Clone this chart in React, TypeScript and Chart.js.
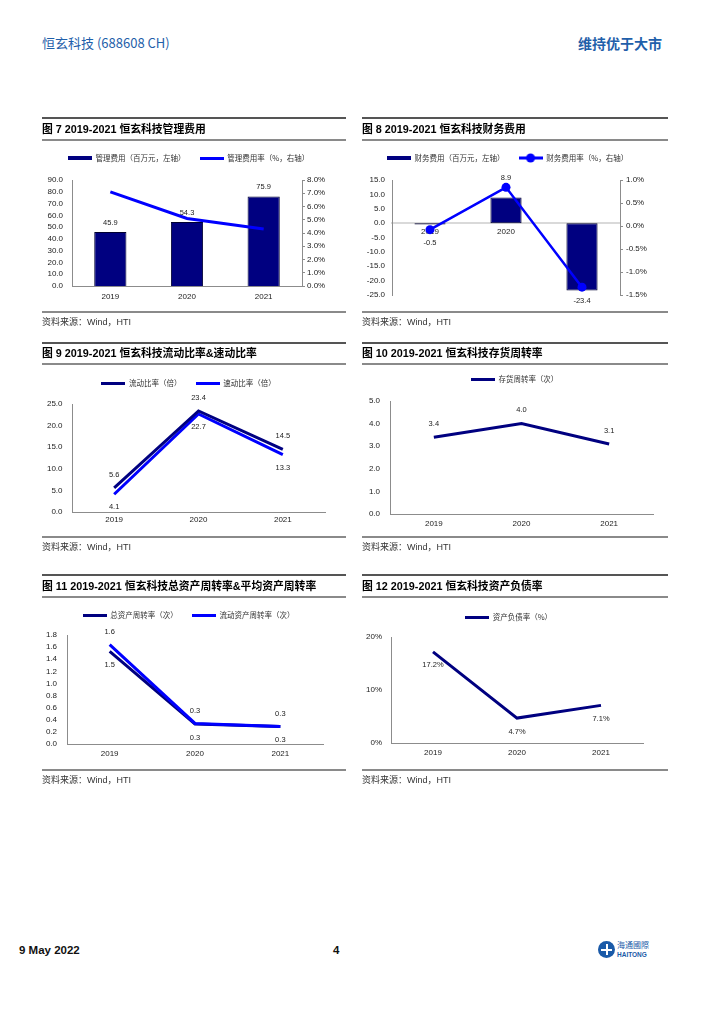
import React, { useEffect, useRef } from "react";
import { Chart, registerables } from "chart.js";

Chart.register(...registerables);

// ---------------- data ----------------
const YEARS = ["2019", "2020", "2021"];
// Fig 7
const ADMIN_EXP = [45.9, 54.3, 75.9];
const ADMIN_RATE = [7.1, 5.1, 4.3];
// Fig 8
const FIN_EXP = [-0.5, 8.9, -23.4];
const FIN_RATE = [-0.08, 0.84, -1.33];
// Fig 9
const CURRENT_RATIO = [5.6, 23.4, 14.5];
const QUICK_RATIO = [4.1, 22.7, 13.3];
// Fig 10
const INV_TURNOVER = [3.4, 4.0, 3.1];
// Fig 11
const TOTAL_ASSET_TURNOVER = [1.53, 0.33, 0.29];
const CURRENT_ASSET_TURNOVER = [1.64, 0.34, 0.29];
// Fig 12
const DEBT_RATIO = [17.2, 4.7, 7.1];

const TITLES = [
  "图 7 2019-2021 恒玄科技管理费用",
  "图 8 2019-2021 恒玄科技财务费用",
  "图 9 2019-2021 恒玄科技流动比率&速动比率",
  "图 10 2019-2021 恒玄科技存货周转率",
  "图 11 2019-2021 恒玄科技总资产周转率&平均资产周转率",
  "图 12 2019-2021 恒玄科技资产负债率",
];
const LEG7 = ["管理费用（百万元，左轴）", "管理费用率（%，右轴）"];
const LEG8 = ["财务费用（百万元，左轴）", "财务费用率（%，右轴）"];
const LEG9 = ["流动比率（倍）", "速动比率（倍）"];
const LEG10 = ["存货周转率（次）"];
const LEG11 = ["总资产周转率（次）", "流动资产周转率（次）"];
const LEG12 = ["资产负债率（%）"];
const SOURCE = "资料来源：Wind，HTI";

// ---------------- style ----------------
const NAVY = "#000080";
const BLUE = "#0000ff";
const AXIS = "#8c8c8c";
const TXT = "#222222";
const LATIN = '"Liberation Sans", Arial, "Noto Sans CJK SC", sans-serif';
const CJK = '"Noto Sans CJK SC", "Liberation Sans", sans-serif';
const HEAD_BLUE = "#1f5faa";

Chart.defaults.font.family = LATIN;
Chart.defaults.color = TXT;

const LEG_PAD = 14;
const LEG_FS = 7.5;
const X_H = 20;

type Spec = {
  left: number; top: number; width: number; height: number;
  legendY: number; legendCX: number;
  area: [number, number, number, number];
  right?: boolean; dynX?: boolean;
};

function computeLayout(s: Spec) {
  const W = s.width, H = s.height;
  const aL = s.area[0] - s.left, aT = s.area[1] - s.top, aR = s.area[2] - s.left, aB = s.area[3] - s.top;
  const cx = s.legendCX - s.left;
  const padL = 0;
  const padR = s.right ? 0 : W - aR;
  const yW = aL;
  const rW = s.right ? W - aR : 0;
  const legendDX = cx - (padL + W - padR) / 2;
  const padT = s.legendY - s.top - LEG_PAD - LEG_FS / 2;
  const legendH = aT - padT;
  const padB = s.dynX ? H - aB : H - aB - X_H;
  return { padL, padR, padT, padB, yW, rW, legendH, legendDX };
}

function marker(kind: "bar" | "line" | "dot", color: string) {
  const c = document.createElement("canvas");
  c.width = 24;
  c.height = kind === "dot" ? 10 : kind === "bar" ? 4 : 3;
  const g = c.getContext("2d")!;
  g.fillStyle = color;
  if (kind === "bar") g.fillRect(0, 0, 24, 4);
  else if (kind === "line") g.fillRect(0, 0, 24, 3);
  else {
    g.fillRect(0, 3.5, 24, 3);
    g.beginPath();
    g.arc(12, 5, 4.5, 0, Math.PI * 2);
    g.fill();
  }
  return c;
}

const valueLabelPlugin = {
  id: "valueLabels",
  afterDatasetsDraw(chart: any) {
    const ctx = chart.ctx;
    chart.data.datasets.forEach((ds: any, i: number) => {
      const cfg = ds.valueLabels;
      if (!cfg) return;
      const meta = chart.getDatasetMeta(i);
      meta.data.forEach((el: any, j: number) => {
        const v = ds.data[j] as number;
        const dy = Array.isArray(cfg.dy) ? cfg.dy[j] : cfg.dy;
        ctx.save();
        ctx.font = `7.5px ${LATIN}`;
        ctx.fillStyle = TXT;
        ctx.textAlign = "center";
        ctx.textBaseline = "middle";
        ctx.fillText(cfg.fmt(v), el.x, el.y + dy);
        ctx.restore();
      });
    });
  },
};

function legendPlacePlugin(h: number, dx: number) {
  return {
    id: "legendPlace",
    beforeInit(chart: any) {
      const legend = chart.legend;
      if (!legend) return;
      const orig = legend.fit;
      legend.fit = function () {
        orig.call(this);
        this.height = h;
      };
    },
    afterLayout(chart: any) {
      const legend = chart.legend;
      if (!legend) return;
      legend.left += dx;
      legend.right += dx;
    },
  };
}

function xScale(pad: number, dyn?: boolean) {
  return {
    type: "category",
    offset: true,
    position: dyn ? { y: 0 } : "bottom",
    z: dyn ? 1 : 0,
    grid: { display: false, drawTicks: false, offset: true },
    border: { display: true, color: dyn ? "#d9d9d9" : AXIS, width: dyn ? 2 : 1 },
    ticks: { padding: pad, font: { size: 8 }, color: TXT, maxRotation: 0, autoSkip: false },
    afterFit: (sc: any) => {
      if (!dyn) sc.height = X_H;
    },
  };
}

function yScale(o: {
  pos: "left" | "right"; min: number; max: number; step: number;
  fmt: (v: number) => string; pad: number; width: number; ticks?: boolean;
}) {
  return {
    type: "linear",
    position: o.pos,
    min: o.min,
    max: o.max,
    grid: { display: !!o.ticks, drawOnChartArea: false, drawTicks: !!o.ticks, tickLength: 3, color: AXIS },
    border: { display: true, color: AXIS, width: 1 },
    ticks: {
      stepSize: o.step,
      autoSkip: false,
      padding: o.pad,
      font: { size: 8 },
      color: TXT,
      callback: (v: any) => o.fmt(Number(v)),
    },
    afterFit: (sc: any) => {
      sc.width = o.width;
    },
  };
}

const f1 = (v: number) => v.toFixed(1);
const pct1 = (v: number) => `${v.toFixed(1)}%`;
const pct0 = (v: number) => `${v.toFixed(0)}%`;

function baseOptions(lay: any, legendNames: string[], markers: HTMLCanvasElement[], scales: any) {
  return {
    responsive: false,
    animation: false,
    devicePixelRatio: 1,
    events: [],
    layout: { padding: { left: lay.padL, right: lay.padR, top: lay.padT, bottom: lay.padB } },
    plugins: {
      tooltip: { enabled: false },
      legend: {
        display: true,
        position: "top",
        align: "center",
        labels: {
          usePointStyle: true,
          pointStyleWidth: 24,
          boxHeight: LEG_FS,
          padding: LEG_PAD,
          color: "#333",
          font: { family: CJK, size: LEG_FS },
          generateLabels: (chart: any) => {
            const items = (Chart.defaults.plugins.legend.labels as any).generateLabels(chart);
            items.sort((a: any, b: any) => a.datasetIndex - b.datasetIndex);
            return items.map((it: any) => ({
              ...it,
              text: legendNames[it.datasetIndex],
              pointStyle: markers[it.datasetIndex],
            }));
          },
        },
      },
    },
    scales,
  };
}

// ---------------- chart specs ----------------
const SPEC7: Spec = { left: 42, top: 118, width: 304, height: 194, legendY: 158, legendCX: 188.5, area: [72, 180, 302, 286], right: true };
const SPEC8: Spec = { left: 362, top: 118, width: 306, height: 194, legendY: 158, legendCX: 507.5, area: [392, 180, 620, 295], right: true, dynX: true };
const SPEC9: Spec = { left: 42, top: 343, width: 304, height: 194, legendY: 383, legendCX: 188.5, area: [72, 404, 325, 512] };
const SPEC10: Spec = { left: 362, top: 343, width: 306, height: 194, legendY: 379, legendCX: 514.5, area: [390, 401, 653, 514] };
const SPEC11: Spec = { left: 42, top: 575, width: 304, height: 195, legendY: 615, legendCX: 188.5, area: [67, 635, 323, 744] };
const SPEC12: Spec = { left: 362, top: 575, width: 306, height: 195, legendY: 617, legendCX: 508.5, area: [391, 637, 643, 743] };

function build7() {
  const lay = computeLayout(SPEC7);
  const markers = [marker("bar", NAVY), marker("line", BLUE)];
  return {
    type: "bar",
    data: {
      labels: YEARS,
      datasets: [
        { type: "bar", label: LEG7[0], data: ADMIN_EXP, backgroundColor: NAVY, borderColor: "#000030", borderWidth: 1,
          categoryPercentage: 1, barPercentage: 0.42, yAxisID: "y", order: 1, valueLabels: { dy: -9.5, fmt: f1 } },
        { type: "line", label: LEG7[1], data: ADMIN_RATE, borderColor: BLUE, borderWidth: 3, pointRadius: 0,
          tension: 0, yAxisID: "y1", order: 0 },
      ],
    },
    options: baseOptions(lay, LEG7, markers, {
      x: xScale(6),
      y: yScale({ pos: "left", min: 0, max: 90, step: 10, fmt: f1, pad: 9, width: lay.yW }),
      y1: yScale({ pos: "right", min: 0, max: 8, step: 1, fmt: pct1, pad: 2, width: lay.rW, ticks: true }),
    }),
    plugins: [valueLabelPlugin, legendPlacePlugin(lay.legendH, lay.legendDX)],
  };
}

function build8() {
  const lay = computeLayout(SPEC8);
  const markers = [marker("bar", NAVY), marker("dot", BLUE)];
  return {
    type: "bar",
    data: {
      labels: YEARS,
      datasets: [
        { type: "bar", label: LEG8[0], data: FIN_EXP, backgroundColor: NAVY, borderColor: "#000030", borderWidth: 1,
          borderSkipped: false, categoryPercentage: 1, barPercentage: 0.41, yAxisID: "y", order: 1,
          valueLabels: { dy: [18, -20, 11], fmt: f1 } },
        { type: "line", label: LEG8[1], data: FIN_RATE, borderColor: BLUE, borderWidth: 2.5, pointRadius: 4.5,
          pointBackgroundColor: BLUE, pointBorderColor: BLUE, pointBorderWidth: 0, tension: 0, yAxisID: "y1", order: 0 },
      ],
    },
    options: baseOptions(lay, LEG8, markers, {
      x: xScale(4, true),
      y: yScale({ pos: "left", min: -25, max: 15, step: 5, fmt: f1, pad: 7, width: lay.yW }),
      y1: yScale({ pos: "right", min: -1.5, max: 1.0, step: 0.5, fmt: pct1, pad: 3, width: lay.rW, ticks: true }),
    }),
    plugins: [valueLabelPlugin, legendPlacePlugin(lay.legendH, lay.legendDX)],
  };
}

function build9() {
  const lay = computeLayout(SPEC9);
  const markers = [marker("line", NAVY), marker("line", BLUE)];
  return {
    type: "line",
    data: {
      labels: YEARS,
      datasets: [
        { label: LEG9[0], data: CURRENT_RATIO, borderColor: NAVY, borderWidth: 3, pointRadius: 0, tension: 0, order: 0,
          valueLabels: { dy: -13, fmt: f1 } },
        { label: LEG9[1], data: QUICK_RATIO, borderColor: BLUE, borderWidth: 3, pointRadius: 0, tension: 0, order: 1,
          valueLabels: { dy: 13, fmt: f1 } },
      ],
    },
    options: baseOptions(lay, LEG9, markers, {
      x: xScale(3),
      y: yScale({ pos: "left", min: 0, max: 25, step: 5, fmt: f1, pad: 9.5, width: lay.yW }),
    }),
    plugins: [valueLabelPlugin, legendPlacePlugin(lay.legendH, lay.legendDX)],
  };
}

function build10() {
  const lay = computeLayout(SPEC10);
  const markers = [marker("line", NAVY)];
  return {
    type: "line",
    data: {
      labels: YEARS,
      datasets: [
        { label: LEG10[0], data: INV_TURNOVER, borderColor: NAVY, borderWidth: 3, pointRadius: 0, tension: 0,
          valueLabels: { dy: -13.5, fmt: f1 } },
      ],
    },
    options: baseOptions(lay, LEG10, markers, {
      x: xScale(5),
      y: yScale({ pos: "left", min: 0, max: 5, step: 1, fmt: f1, pad: 10, width: lay.yW }),
    }),
    plugins: [valueLabelPlugin, legendPlacePlugin(lay.legendH, lay.legendDX)],
  };
}

function build11() {
  const lay = computeLayout(SPEC11);
  const markers = [marker("line", NAVY), marker("line", BLUE)];
  return {
    type: "line",
    data: {
      labels: YEARS,
      datasets: [
        { label: LEG11[0], data: TOTAL_ASSET_TURNOVER, borderColor: NAVY, borderWidth: 3, pointRadius: 0, tension: 0, order: 1,
          valueLabels: { dy: 13.5, fmt: f1 } },
        { label: LEG11[1], data: CURRENT_ASSET_TURNOVER, borderColor: BLUE, borderWidth: 3, pointRadius: 0, tension: 0, order: 0,
          valueLabels: { dy: -12.5, fmt: f1 } },
      ],
    },
    options: baseOptions(lay, LEG11, markers, {
      x: xScale(5),
      y: yScale({ pos: "left", min: 0, max: 1.8, step: 0.2, fmt: f1, pad: 10, width: lay.yW }),
    }),
    plugins: [valueLabelPlugin, legendPlacePlugin(lay.legendH, lay.legendDX)],
  };
}

function build12() {
  const lay = computeLayout(SPEC12);
  const markers = [marker("line", NAVY)];
  return {
    type: "line",
    data: {
      labels: YEARS,
      datasets: [
        { label: LEG12[0], data: DEBT_RATIO, borderColor: NAVY, borderWidth: 3, pointRadius: 0, tension: 0,
          valueLabels: { dy: 13.5, fmt: pct1 } },
      ],
    },
    options: baseOptions(lay, LEG12, markers, {
      x: xScale(5),
      y: yScale({ pos: "left", min: 0, max: 20, step: 10, fmt: pct0, pad: 9, width: lay.yW }),
    }),
    plugins: [valueLabelPlugin, legendPlacePlugin(lay.legendH, lay.legendDX)],
  };
}

function ChartBox({ spec, build }: { spec: Spec; build: () => any }) {
  const ref = useRef<HTMLCanvasElement>(null);
  useEffect(() => {
    const chart = new Chart(ref.current as HTMLCanvasElement, build() as any);
    return () => chart.destroy();
  }, []);
  return (
    <canvas
      ref={ref}
      width={spec.width}
      height={spec.height}
      style={{ position: "absolute", left: spec.left, top: spec.top, width: spec.width, height: spec.height }}
    />
  );
}

type Row = { top: number; titleY: number; under: number; bottom: number; srcY: number };
const ROWS: Row[] = [
  { top: 118, titleY: 129, under: 140, bottom: 312, srcY: 322 },
  { top: 343, titleY: 353, under: 364, bottom: 537, srcY: 547 },
  { top: 575, titleY: 586, under: 597, bottom: 770, srcY: 780 },
];
const COLS = [
  { x: 42, w: 304 },
  { x: 362, w: 306 },
];

function PanelFrame({ row, col, title }: { row: Row; col: { x: number; w: number }; title: string }) {
  const line = (y: number, h: number, c: string) => (
    <div style={{ position: "absolute", left: col.x, top: y - h / 2, width: col.w, height: h, background: c }} />
  );
  return (
    <>
      {line(row.top, 1.2, "#555")}
      {line(row.under, 1.6, "#8a8a8a")}
      {line(row.bottom, 1.6, "#8a8a8a")}
      <div
        style={{
          position: "absolute", left: col.x, top: row.titleY - 8, height: 16, lineHeight: "16px",
          fontFamily: LATIN, fontWeight: "bold", fontSize: 10.8, color: "#000", whiteSpace: "nowrap",
        }}
      >
        {title}
      </div>
      <div
        style={{
          position: "absolute", left: col.x, top: row.srcY - 7, height: 14, lineHeight: "14px",
          fontFamily: LATIN, fontSize: 9, color: "#333", whiteSpace: "nowrap",
        }}
      >
        {SOURCE}
      </div>
    </>
  );
}

export default function App() {
  return (
    <div style={{ position: "absolute", left: 0, top: 0, width: 725, height: 1024, background: "#fff", overflow: "hidden" }}>
      <div style={{ position: "absolute", left: 42, top: 34, lineHeight: "18px", fontSize: 13, color: HEAD_BLUE, fontFamily: CJK, whiteSpace: "nowrap" }}>
        恒玄科技 (688608 CH)
      </div>
      <div style={{ position: "absolute", right: 63, top: 34, lineHeight: "18px", fontSize: 14, fontWeight: "bold", color: HEAD_BLUE, fontFamily: CJK, whiteSpace: "nowrap" }}>
        维持优于大市
      </div>

      <ChartBox spec={SPEC7} build={build7} />
      <ChartBox spec={SPEC8} build={build8} />
      <ChartBox spec={SPEC9} build={build9} />
      <ChartBox spec={SPEC10} build={build10} />
      <ChartBox spec={SPEC11} build={build11} />
      <ChartBox spec={SPEC12} build={build12} />

      <PanelFrame row={ROWS[0]} col={COLS[0]} title={TITLES[0]} />
      <PanelFrame row={ROWS[0]} col={COLS[1]} title={TITLES[1]} />
      <PanelFrame row={ROWS[1]} col={COLS[0]} title={TITLES[2]} />
      <PanelFrame row={ROWS[1]} col={COLS[1]} title={TITLES[3]} />
      <PanelFrame row={ROWS[2]} col={COLS[0]} title={TITLES[4]} />
      <PanelFrame row={ROWS[2]} col={COLS[1]} title={TITLES[5]} />

      <div style={{ position: "absolute", left: 19, top: 942, lineHeight: "16px", fontSize: 11.5, fontWeight: "bold", fontFamily: LATIN, color: "#111" }}>
        9 May 2022
      </div>
      <div style={{ position: "absolute", left: 333, top: 942, lineHeight: "16px", fontSize: 11.5, fontWeight: "bold", fontFamily: LATIN, color: "#111" }}>
        4
      </div>
      <div style={{ position: "absolute", left: 598, top: 941, width: 17, height: 17, borderRadius: "50%", background: "#1a5aa8" }}>
        <div style={{ position: "absolute", left: 3, top: 7.5, width: 11, height: 2, background: "#fff" }} />
        <div style={{ position: "absolute", left: 7.5, top: 3, width: 2, height: 11, background: "#fff" }} />
      </div>
      <div style={{ position: "absolute", left: 617, top: 940, lineHeight: "10px", fontSize: 8, color: "#1a5aa8", fontFamily: CJK, whiteSpace: "nowrap" }}>
        海通國際
      </div>
      <div style={{ position: "absolute", left: 617, top: 950, lineHeight: "9px", fontSize: 6.5, fontWeight: "bold", color: "#1a5aa8", fontFamily: LATIN, whiteSpace: "nowrap" }}>
        HAITONG
      </div>
    </div>
  );
}
